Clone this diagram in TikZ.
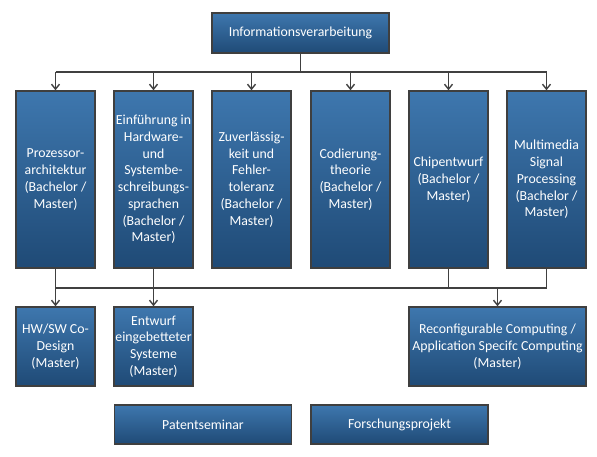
\documentclass[tikz,border=0pt]{standalone}
\usepackage{fontspec}
\setmainfont{Carlito}
\usetikzlibrary{arrows.meta}
\definecolor{boxtop}{HTML}{3E77AE}
\definecolor{boxbot}{HTML}{1F4A76}
\definecolor{boxedge}{HTML}{3F3F3F}
\definecolor{linegray}{HTML}{404040}
\tikzset{
  modul/.style={draw=boxedge, line width=1.4pt, top color=boxtop, bottom color=boxbot,
    text=white, align=center, inner sep=0pt, font=\fontsize{13.8}{16.7}\selectfont},
  tall/.style={modul, minimum width=79pt, minimum height=177pt},
  square/.style={modul, minimum width=79pt, minimum height=79pt},
  wide/.style={modul, minimum width=177pt},
  link/.style={draw=linegray, line width=1.4pt},
  arr/.style={link, -{Straight Barb[length=5pt,width=8pt]}}
}
\begin{document}
\begin{tikzpicture}[x=1pt, y=1pt]
    \useasboundingbox (0,0) rectangle (597,-457);
    \node[wide, minimum height=40pt] (info) at (300.5,-33) {Informationsverarbeitung};
    \node[tall] (proz) at (55.5,-179.5) {Prozessor-\\architektur\\(Bachelor /\\Master)};
    \node[tall] (einf) at (153.5,-179.5) {Einführung in\\Hardware-\\und\\Systembe-\\schreibungs-\\sprachen\\(Bachelor /\\Master)};
    \node[tall] (zuv) at (251.5,-179.5) {Zuverlässig-\\keit und\\Fehler-\\toleranz\\(Bachelor /\\Master)};
    \node[tall] (cod) at (350.5,-179.5) {Codierung-\\theorie\\(Bachelor /\\Master)};
    \node[tall] (chip) at (448.5,-179.5) {Chipentwurf\\(Bachelor /\\Master)};
    \node[tall] (mm) at (546.5,-179.5) {Multimedia\\Signal\\Processing\\(Bachelor /\\Master)};
    \node[square] (hwsw) at (55.5,-346.5) {HW/SW Co-\\Design\\(Master)};
    \node[square] (entw) at (153.5,-346.5) {Entwurf\\eingebetteter\\Systeme\\(Master)};
    \node[wide, minimum height=79pt] (reconf) at (497.5,-346.5) {Reconfigurable Computing /\\Application Specifc Computing\\(Master)};
    \node[wide, minimum height=39pt] (patent) at (203,-424.5) {Patentseminar};
    \node[wide, minimum height=39pt] (forsch) at (399.5,-424.5) {Forschungsprojekt};
    % upper bus
    \coordinate (topbus) at (0,-72);
    \coordinate (lowbus) at (0,-288);
    \draw[link] (info.south) -- (info.south |- topbus);
    \draw[link] (proz.north |- topbus) -- (mm.north |- topbus);
    \foreach \m in {proz, einf, zuv, cod, chip, mm}
      \draw[arr] (\m.north |- topbus) -- (\m.north);
    % lower bus
    \draw[link] (proz.south |- lowbus) -- (mm.south |- lowbus);
    \draw[arr] (proz.south) -- (hwsw.north);
    \draw[arr] (einf.south) -- (entw.north);
    \draw[link] (chip.south) -- (chip.south |- lowbus);
    \draw[link] (mm.south) -- (mm.south |- lowbus);
    \draw[arr] (reconf.north |- lowbus) -- (reconf.north);
\end{tikzpicture}
\end{document}
